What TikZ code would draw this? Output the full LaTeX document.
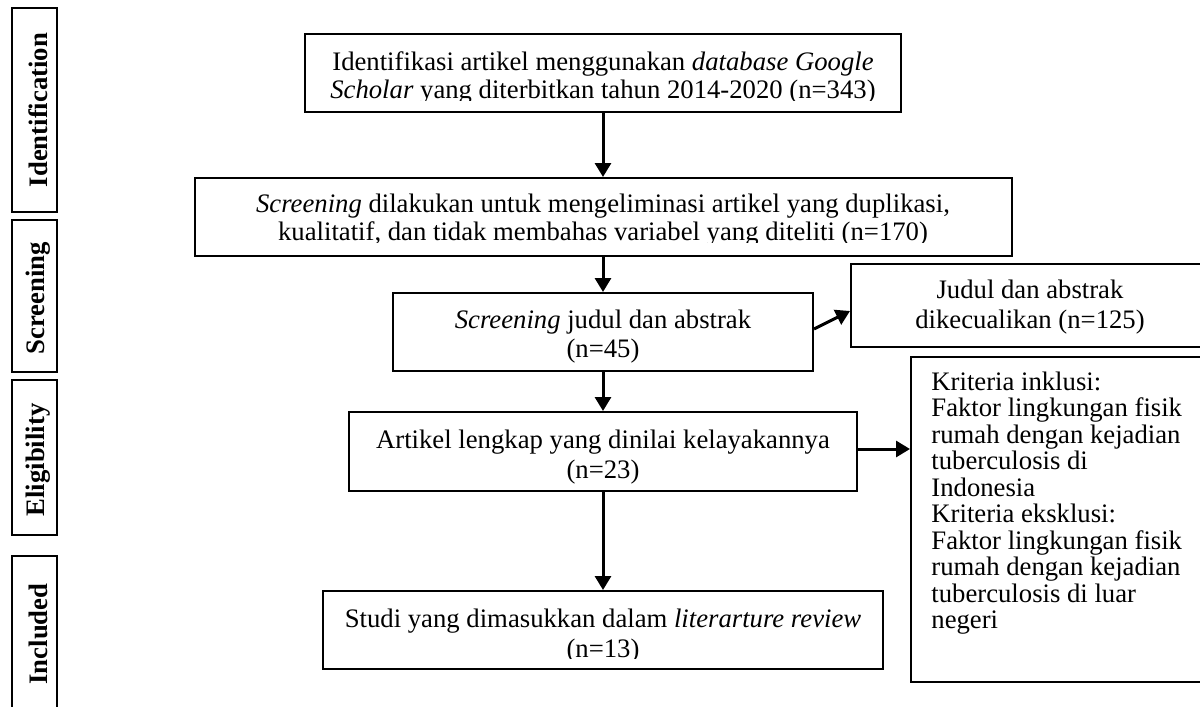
\documentclass[tikz,border=0pt]{standalone}
\usepackage{fontspec}
\setmainfont{Liberation Serif}
\usetikzlibrary{arrows.meta}
\begin{document}
\begin{tikzpicture}[x=0.5pt,y=-0.5pt,
  box/.style={draw, line width=1pt, inner sep=0pt},
  lblbox/.style={draw, line width=1.2pt, inner sep=0pt, minimum width=22.5pt},
  txt/.style={inner sep=0pt, align=center, anchor=base, font=\fontsize{13.35}{14.5}\selectfont},
  ltxt/.style={inner sep=0pt, align=left, anchor=base west, font=\fontsize{13.35}{13.25}\selectfont},
  lbltxt/.style={inner sep=0pt, rotate=90, font=\fontsize{13.35}{14}\selectfont\bfseries},
  arr/.style={line width=1.5pt, -{Triangle[length=7pt,width=8pt]}}]
\useasboundingbox (0,0) rectangle (1200,707);
\begin{scope}
\clip (0,0) rectangle (1200,707);
% side labels
\node[lblbox, minimum height=102pt] (l1) at (34.5,110) {};
\node[lblbox, minimum height=76pt] (l2) at (34.5,296) {};
\node[lblbox, minimum height=77.5pt] (l3) at (34.5,457.5) {};
\node[lblbox, minimum height=82pt] (l4) at (34.5,638) {};
\node[lbltxt] (t1) at (38,110) {Identification};
\node[lbltxt] (t2) at (38,298) {Screening};
\node[lbltxt] (t3) at (38,460) {Eligibility};
\node[lbltxt] (t4) at (38,634) {Included};
% boxes
\node[box, minimum width=298pt, minimum height=39pt] (b1) at (603,73) {};
\node[box, minimum width=408.5pt, minimum height=39pt] (b2) at (603.5,217) {};
\node[box, minimum width=210pt, minimum height=39pt] (b3) at (603,332) {};
\node[box, minimum width=179pt, minimum height=41.5pt] (b4) at (1030,305.5) {};
\node[box, minimum width=254pt, minimum height=39.5pt] (b5) at (603,451.5) {};
\node[box, minimum width=149.5pt, minimum height=162.5pt] (b6) at (1060.5,519.5) {};
\node[box, minimum width=280pt, minimum height=39pt] (b7) at (603,630) {};
% texts (second lines clipped as in the reference)
\begin{scope}
\clip (305,34) rectangle (901,100.5);
\node[txt, font=\fontsize{13.35}{14}\selectfont] (x1) at (603,98) {Identifikasi artikel menggunakan \textit{database Google}\\\textit{Scholar} yang diterbitkan tahun 2014-2020 (n=343)};
\end{scope}
\begin{scope}
\clip (195,178) rectangle (1012,242.5);
\node[txt, font=\fontsize{13.35}{14}\selectfont] (x2) at (603,240) {\textit{Screening} dilakukan untuk mengeliminasi artikel yang duplikasi,\\kualitatif, dan tidak membahas variabel yang diteliti (n=170)};
\end{scope}
\node[txt] (x3) at (603,357) {\textit{Screening} judul dan abstrak\\(n=45)};
\node[txt, font=\fontsize{13.35}{15}\selectfont] (x4) at (1030,328) {Judul dan abstrak\\dikecualikan (n=125)};
\node[txt, font=\fontsize{13.35}{15}\selectfont] (x5) at (603,478) {Artikel lengkap yang dinilai kelayakannya\\(n=23)};
\node[ltxt] (x6) at (931,628.5) {Kriteria inklusi:\\Faktor lingkungan fisik\\rumah dengan kejadian\\tuberculosis di\\Indonesia\\Kriteria eksklusi:\\Faktor lingkungan fisik\\rumah dengan kejadian\\tuberculosis di luar\\negeri};
\begin{scope}
\clip (323,591) rectangle (883,658.5);
\node[txt, font=\fontsize{13.35}{15}\selectfont] (x7) at (603,657) {Studi yang dimasukkan dalam \textit{literarture review}\\(n=13)};
\end{scope}
% connectors
\draw[arr] (b1.south) -- (b1.south |- b2.north);
\draw[arr] (b2.south -| b3.north) -- (b3.north);
\draw[arr] ([yshift=1.5pt]b3.east) -- ([yshift=-2.75pt]b4.west);
\draw[arr] (b3.south) -- (b5.north);
\draw[arr] ([yshift=1.25pt]b5.east) -- ([yshift=1.25pt]b5.east -| b6.west);
\draw[arr] (b5.south) -- (b7.north);
\end{scope}
\end{tikzpicture}
\end{document}
